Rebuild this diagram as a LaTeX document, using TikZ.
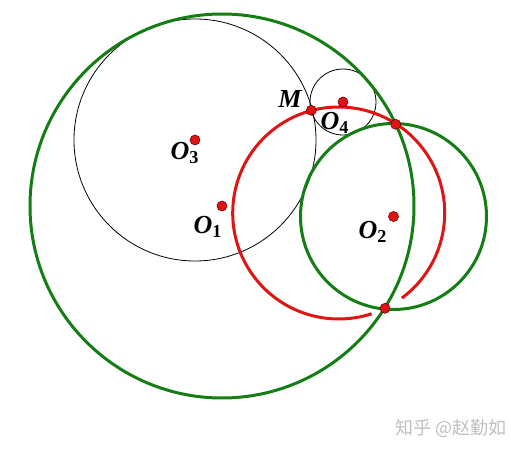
\documentclass[tikz,border=0pt]{standalone}
\usepackage{fontspec}
\setmainfont{Liberation Serif}
\newfontfamily\cjk{Noto Sans CJK SC}
\definecolor{arcred}{RGB}{225,20,20}
\definecolor{circgreen}{RGB}{20,125,20}
\begin{document}
\begin{tikzpicture}[x=0.5pt,y=0.5pt,
	bigcirc/.style={draw=circgreen,line width=1.5pt},
	redcirc/.style={draw=arcred,line width=1.5pt},
	thincirc/.style={draw=black,line width=0.4pt},
	pt/.style={circle,fill=arcred,draw=red!40!black,line width=0.3pt,inner sep=0pt,minimum size=5pt},
	lbl/.style={font=\fontsize{13}{15}\selectfont\bfseries\itshape}]
		% circles and tangency points
		\useasboundingbox (0,0) rectangle (511,451);
		\coordinate (O1) at (222,245);
		\coordinate (O2) at (393.5,234.5);
		\coordinate (O3) at (195,311);
		\coordinate (O4) at (343,349);
		\coordinate (R) at (338.7,238);
		
		\draw[thincirc] (O3) circle (121);
		\draw[thincirc] (O4) circle (33);
		\draw[bigcirc] (O1) circle (192);
		\draw[bigcirc] (O2) circle (93);
		\draw[redcirc] ([shift={(-53.4:106)}]R) arc (-53.4:288.1:106);
		
		\node[pt] (O1dot) at (O1) {};
		\node[pt] (O2dot) at (O2) {};
		\node[pt] (O3dot) at (O3) {};
		\node[pt] (O4dot) at (O4) {};
		\node[pt] (M) at (311.3,340.7) {};
		\node[pt] (P) at (395.7,326.7) {};
		\node[pt] (Q) at (385,142.7) {};
		
		\node[lbl] (Mlbl) at (290,352) {M};
		\node[lbl] (O1lbl) at (208,224) {O\textsubscript{\upshape 1}};
		\node[lbl] (O2lbl) at (373,219) {O\textsubscript{\upshape 2}};
		\node[lbl] (O3lbl) at (185,298) {O\textsubscript{\upshape 3}};
		\node[lbl] (O4lbl) at (335,328) {O\textsubscript{\upshape 4}};
		\node[text=black!25,font=\cjk\fontsize{9}{11}\selectfont] (mark) at (451,23) {知乎 @赵勤如};
		
		\end{tikzpicture}
\end{document}
